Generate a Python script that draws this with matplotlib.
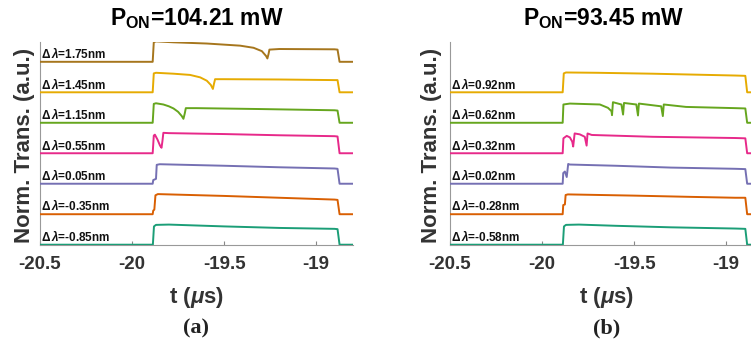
import matplotlib
matplotlib.use('Agg')
import matplotlib.pyplot as plt

plt.rcParams['font.family'] = ['Liberation Sans', 'DejaVu Sans']
plt.rcParams['font.weight'] = 'bold'
plt.rcParams['axes.unicode_minus'] = False
plt.rcParams['mathtext.fontset'] = 'custom'
plt.rcParams['mathtext.rm'] = 'Liberation Sans'
plt.rcParams['mathtext.it'] = 'Liberation Sans:italic'
plt.rcParams['mathtext.bf'] = 'Liberation Sans:bold'

colors = ['#1b9e77', '#d95f02', '#7570b3', '#e7298a', '#66a61e', '#e6ab02', '#a6761d']
xticks = [-20.5, -20, -19.5, -19]
xticklabels = ['-20.5', '-20', '-19.5', '-19']

# panel (a), P_ON = 104.21 mW, traces from bottom to top
titles = ['104.21', '93.45']
dl_a = ['-0.85', '-0.35', '0.05', '0.55', '1.15', '1.45', '1.75']
t_a = [
    [-20.5, -19.887, -19.881, -19.87, -19.80, -19.65, -19.5, -19.2, -18.90, -18.884, -18.873, -18.8],
    [-20.5, -19.888, -19.885, -19.879, -19.873, -19.86, -19.5, -19.2, -18.90, -18.884, -18.873, -18.8],
    [-20.5, -19.888, -19.885, -19.870, -19.866, -19.85, -19.5, -19.2, -18.90, -18.884, -18.873, -18.8],
    [-20.5, -19.888, -19.882, -19.876, -19.862, -19.848, -19.840, -19.835, -19.830, -19.80, -19.5, -19.2,
     -18.90, -18.884, -18.873, -18.8],
    [-20.5, -19.888, -19.882, -19.87, -19.83, -19.80, -19.775, -19.75, -19.73, -19.721, -19.714, -19.708,
     -19.65, -19.3, -18.90, -18.884, -18.873, -18.8],
    [-20.5, -19.888, -19.882, -19.87, -19.775, -19.685, -19.63, -19.594, -19.572, -19.561, -19.555, -19.549,
     -19.5, -19.2, -18.90, -18.884, -18.873, -18.8],
    [-20.5, -19.888, -19.882, -19.87, -19.775, -19.594, -19.413, -19.34, -19.295, -19.272, -19.265, -19.259,
     -19.254, -19.2, -18.90, -18.884, -18.873, -18.8],
]
y_a = [
    [0, 0, 0.60, 0.65, 0.66, 0.63, 0.60, 0.55, 0.52, 0.51, 0, 0],
    [0, 0, 0.12, 0.15, 0.62, 0.66, 0.60, 0.54, 0.48, 0.47, 0, 0],
    [0, 0, 0.12, 0.16, 0.62, 0.64, 0.59, 0.54, 0.50, 0.49, 0, 0],
    [0, 0, 0.58, 0.61, 0.45, 0.25, 0.18, 0.40, 0.67, 0.66, 0.63, 0.59, 0.56, 0.55, 0, 0],
    [0, 0, 0.62, 0.64, 0.60, 0.54, 0.47, 0.36, 0.22, 0.13, 0.30, 0.48, 0.48, 0.45, 0.41, 0.40, 0, 0],
    [0, 0, 0.62, 0.64, 0.61, 0.57, 0.49, 0.38, 0.24, 0.11, 0.28, 0.43, 0.43, 0.42, 0.40, 0.40, 0, 0],
    [0, 0, 0.64, 0.67, 0.64, 0.60, 0.53, 0.46, 0.35, 0.19, 0.11, 0.25, 0.40, 0.42, 0.41, 0.40, 0, 0],
]

# panel (b), P_ON = 93.45 mW
dl_b = ['-0.58', '-0.28', '0.02', '0.32', '0.62', '0.92']
t_b = [
    [-20.5, -19.887, -19.881, -19.87, -19.80, -19.6, -19.3, -18.95, -18.896, -18.886, -18.8],
    [-20.5, -19.888, -19.885, -19.876, -19.872, -19.86, -19.5, -19.2, -18.95, -18.896, -18.886, -18.8],
    [-20.5, -19.888, -19.885, -19.876, -19.866, -19.858, -19.85, -19.6, -19.3, -18.95, -18.896, -18.886, -18.8],
    [-20.5, -19.888, -19.884, -19.866, -19.849, -19.836, -19.831, -19.823, -19.795, -19.768, -19.758, -19.753,
     -19.73, -19.4, -18.95, -18.896, -18.886, -18.8],
    [-20.5, -19.888, -19.884, -19.849, -19.686, -19.642, -19.623, -19.620, -19.615, -19.569, -19.560, -19.555,
     -19.488, -19.479, -19.474, -19.353, -19.344, -19.339, -19.218, -18.95, -18.896, -18.886, -18.8],
    [-20.5, -19.888, -19.882, -19.87, -19.7, -19.4, -19.1, -18.95, -18.896, -18.886, -18.8],
]
y_b = [
    [0, 0, 0.60, 0.65, 0.66, 0.62, 0.57, 0.53, 0.52, 0, 0],
    [0, 0, 0.30, 0.32, 0.63, 0.65, 0.61, 0.57, 0.54, 0.54, 0, 0],
    [0, 0, 0.35, 0.40, 0.22, 0.65, 0.63, 0.59, 0.53, 0.49, 0.48, 0, 0],
    [0, 0, 0.49, 0.57, 0.52, 0.38, 0.22, 0.65, 0.62, 0.54, 0.25, 0.65, 0.60, 0.54, 0.50, 0.49, 0, 0],
    [0, 0, 0.60, 0.63, 0.60, 0.49, 0.38, 0.25, 0.675, 0.60, 0.27, 0.65, 0.60, 0.24, 0.63, 0.54, 0.22, 0.60,
     0.52, 0.48, 0.47, 0, 0],
    [0, 0, 0.62, 0.65, 0.64, 0.61, 0.57, 0.55, 0.54, 0, 0],
]

W, H = 751, 348
fig = plt.figure(figsize=(W / 100, H / 100), dpi=100)
ax_a = fig.add_axes([40 / W, 103 / H, 313 / W, 203 / H])
ax_b = fig.add_axes([450 / W, 103 / H, 313 / W, 203 / H])

panels = [(ax_a, dl_a, t_a, y_a, '(a)', -0.051, 0.5),
          (ax_b, dl_b, t_b, y_b, '(b)', -0.058, 0.491)]

for k, (ax, dl, ts, ys, tag, ylx, tx) in enumerate(panels):
    for i in range(len(dl)):
        ax.plot(ts[i], [v + i for v in ys[i]], color=colors[i], lw=1.4, zorder=3)
        ax.text(-20.497, i + 0.27, r'$\Delta\,\lambda$=' + dl[i] + 'nm', fontsize=8.5,
                ha='left', va='center', color='#111111')
    ax.set_xlim(-20.5, -18.8)
    ax.set_ylim(-0.01, 6.65)
    ax.set_xticks(xticks)
    ax.set_xticklabels(xticklabels)
    ax.set_yticks([])
    ax.tick_params(axis='x', direction='in', length=3, color='#888888', labelsize=13.5,
                   labelcolor='#333333', pad=8)
    for s in ['top', 'right']:
        ax.spines[s].set_visible(False)
    for s in ['left', 'bottom']:
        ax.spines[s].set_color('#999999')
        ax.spines[s].set_linewidth(0.8)
    ax.text(tx, 1.084, r'P$_{\mathbf{ON}}$=' + titles[k] + ' mW', transform=ax.transAxes,
            ha='center', va='baseline', fontsize=16.5, color='black')
    ax.text(ylx, 0.49, 'Norm. Trans. (a.u.)', transform=ax.transAxes, rotation=90,
            ha='center', va='center', fontsize=16, color='#333333')
    ax.text(0.5, -0.261, r't ($\mu$s)', transform=ax.transAxes, ha='center', va='center',
            fontsize=16, color='#333333')
    ax.text(0.5, -0.409, tag, transform=ax.transAxes, ha='center', va='center',
            fontsize=16, family='Liberation Serif', color='#222222')

fig.savefig('out.png', dpi=100)
